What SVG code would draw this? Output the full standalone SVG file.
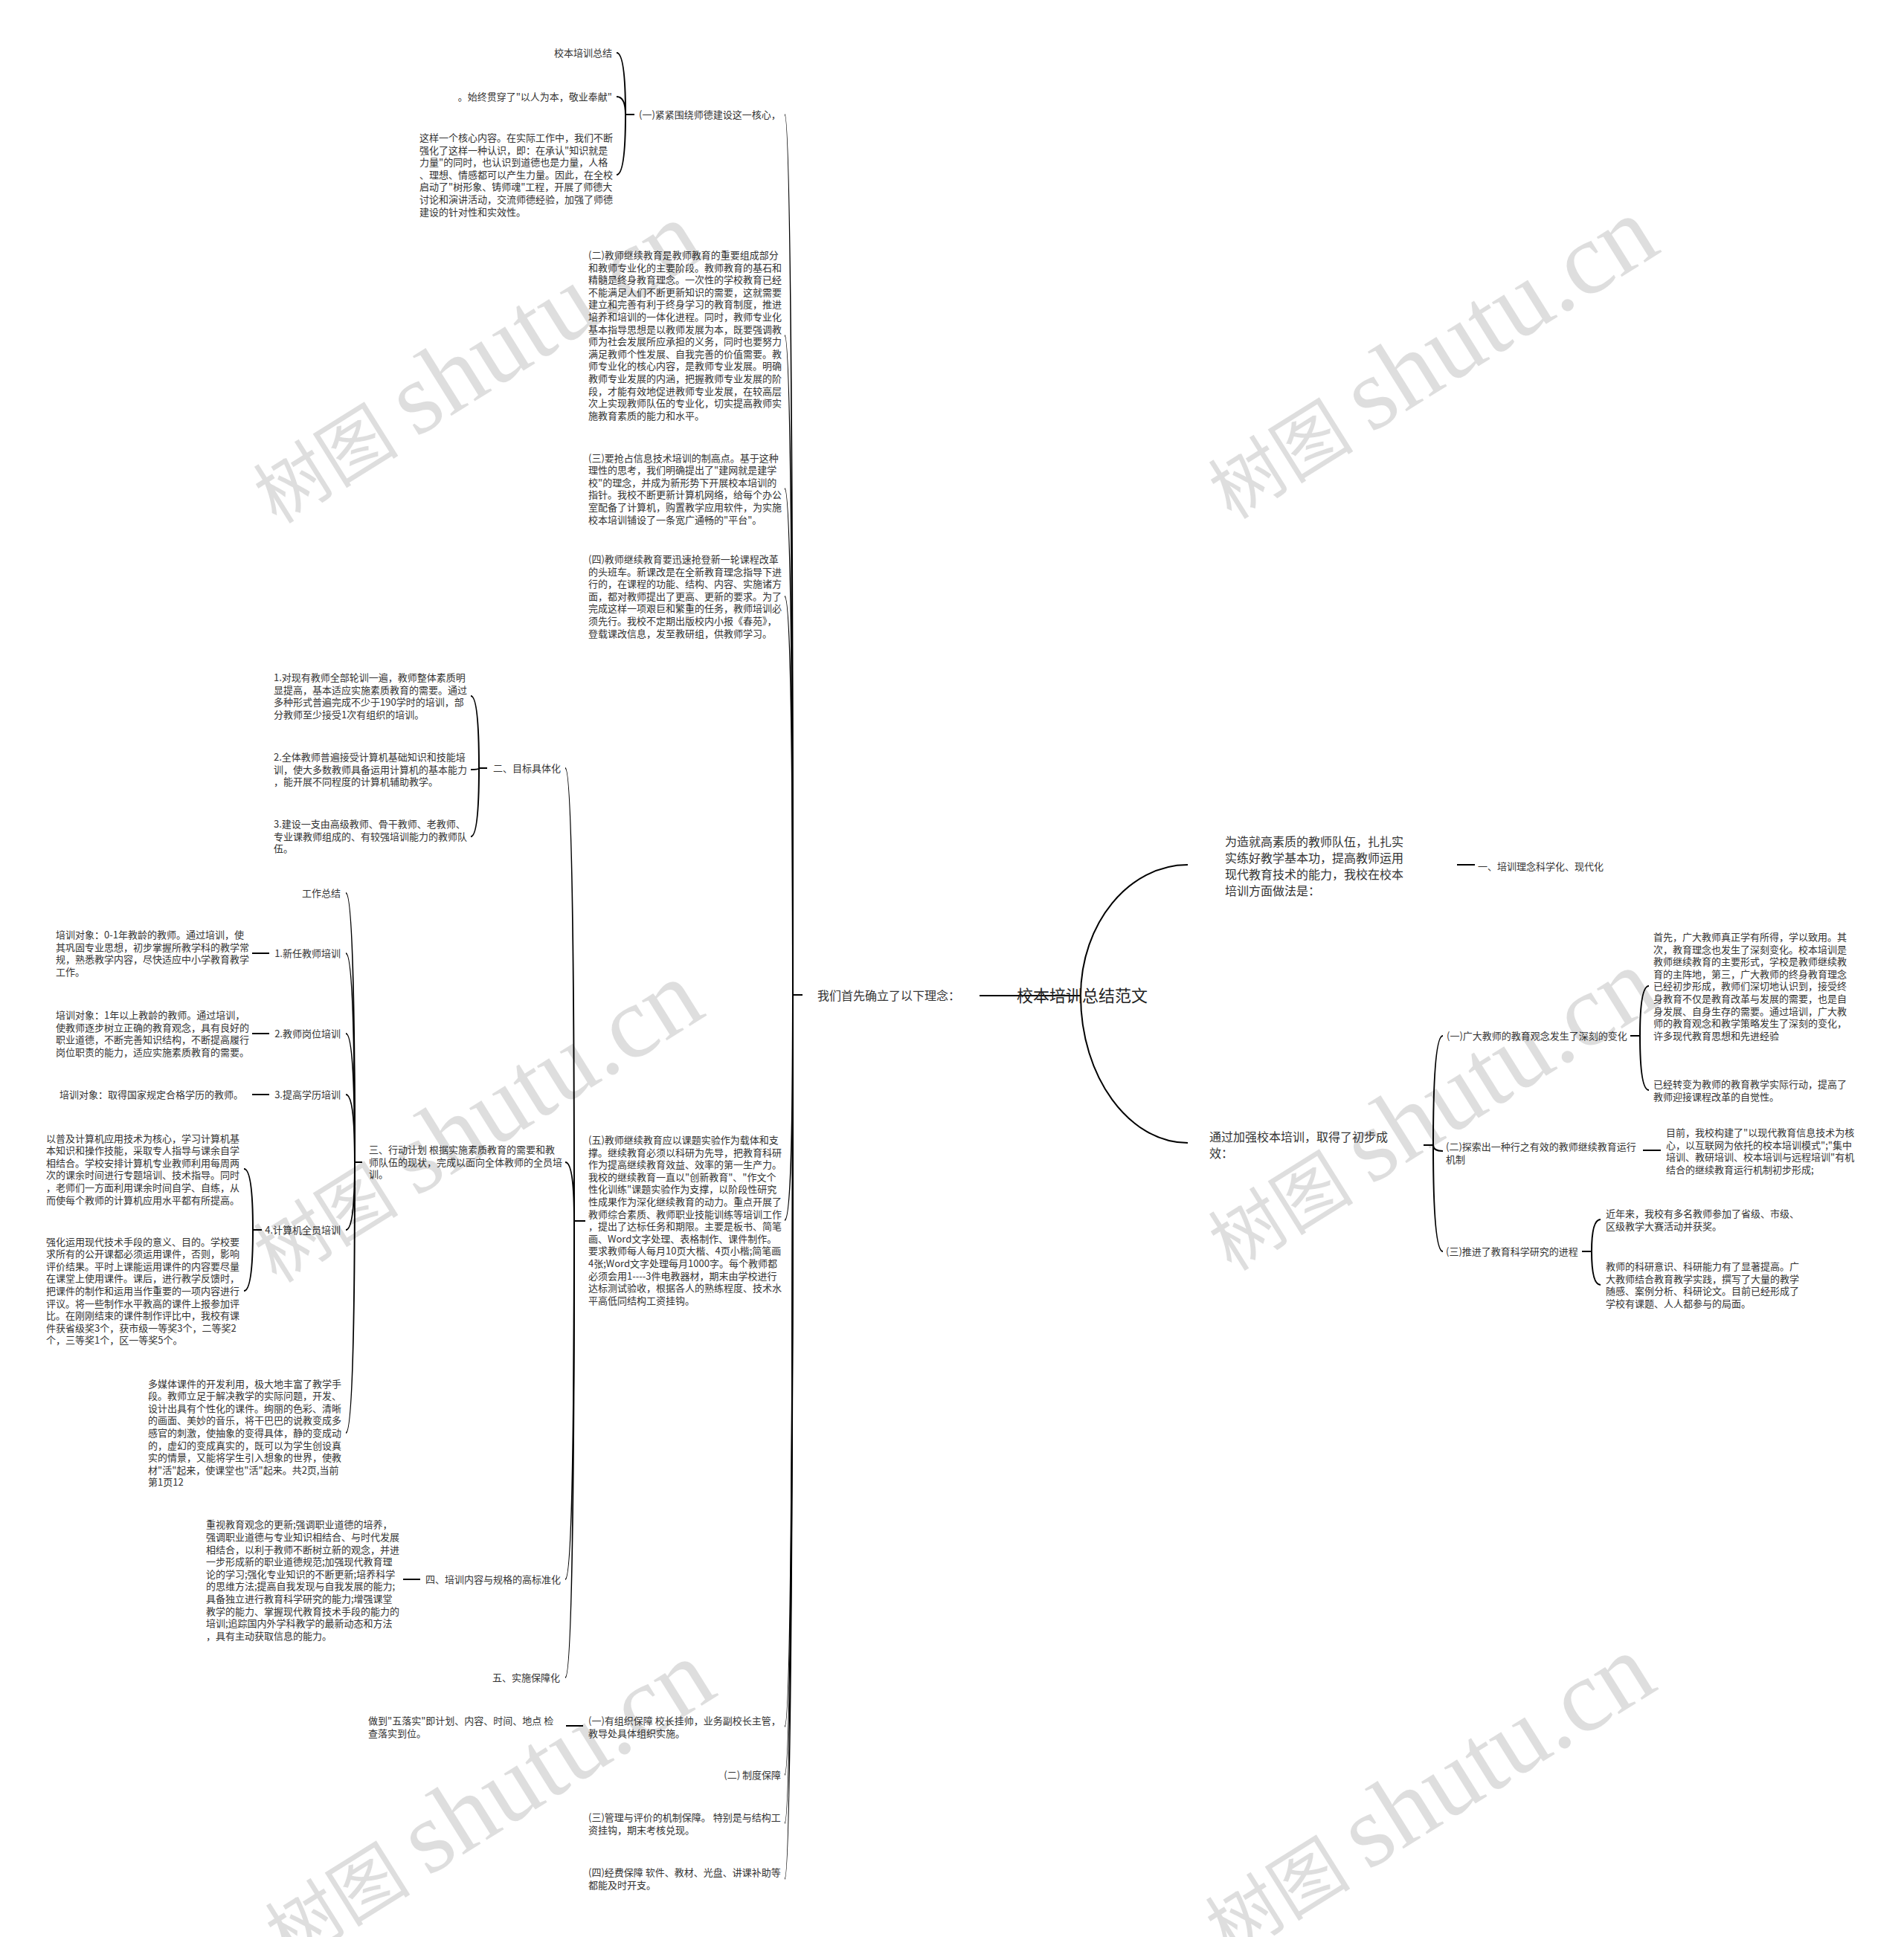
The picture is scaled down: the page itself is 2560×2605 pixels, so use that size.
<svg xmlns="http://www.w3.org/2000/svg" width="2560" height="2605" viewBox="0 0 2560 2605">
<style>
.t{font-family:"Noto Sans CJK SC","Microsoft YaHei",sans-serif;font-size:13px;fill:#333}
.m{font-family:"Noto Sans CJK SC","Microsoft YaHei",sans-serif;font-size:16px;fill:#333}
.c{font-family:"Noto Sans CJK SC","Microsoft YaHei",sans-serif;font-size:22px;fill:#222}
.r{text-anchor:end}
.e{fill:none;stroke:#000;stroke-width:2}
.wm{font-family:"Liberation Serif","Noto Sans CJK SC",serif;font-size:98px;fill:#000;fill-opacity:0.13}
.wl{font-size:138px}
</style>
<rect width="2560" height="2605" fill="#fff"/>
<g id="connectors">
<path class="e" d="M1317 1339H1453"/>
<path class="e" d="M1453 1339C1453 1242 1518 1163 1597 1163"/>
<path class="e" d="M1453 1339C1453 1448 1518 1537 1597 1537"/>
<path class="e" d="M1079 1338H1066Q1066 154 1055 154"/>
<path class="e" d="M1079 1338H1066Q1066 451 1055 451"/>
<path class="e" d="M1079 1338H1066Q1066 657 1055 657"/>
<path class="e" d="M1079 1338H1066Q1066 802 1055 802"/>
<path class="e" d="M1079 1338H1066Q1066 1641 1055 1641"/>
<path class="e" d="M1079 1338H1066Q1066 2322 1055 2322"/>
<path class="e" d="M1079 1338H1066Q1066 2387 1055 2387"/>
<path class="e" d="M1079 1338H1066Q1066 2452 1055 2452"/>
<path class="e" d="M1079 1338H1066Q1066 2527 1055 2527"/>
<path class="e" d="M853 154H841Q841 71 829 71"/>
<path class="e" d="M853 154H841Q841 130 829 130"/>
<path class="e" d="M853 154H841Q841 235 829 235"/>
<path class="e" d="M787 1642H772Q772 1033 760 1033"/>
<path class="e" d="M787 1642H772Q772 1563 760 1563"/>
<path class="e" d="M787 1642H772Q772 2124 760 2124"/>
<path class="e" d="M787 1642H772Q772 2256 760 2256"/>
<path class="e" d="M655 1033H644Q644 936 633 936"/>
<path class="e" d="M655 1033H644Q644 1035 633 1035"/>
<path class="e" d="M655 1033H644Q644 1125 633 1125"/>
<path class="e" d="M487 1563H477Q477 1201 465 1201"/>
<path class="e" d="M487 1563H477Q477 1282 465 1282"/>
<path class="e" d="M487 1563H477Q477 1390 465 1390"/>
<path class="e" d="M487 1563H477Q477 1472 465 1472"/>
<path class="e" d="M487 1563H477Q477 1654 465 1654"/>
<path class="e" d="M487 1563H477Q477 1927 465 1927"/>
<path class="e" d="M362 1282H339"/>
<path class="e" d="M362 1390H339"/>
<path class="e" d="M362 1472H339"/>
<path class="e" d="M352 1654H340Q340 1572 328 1572"/>
<path class="e" d="M352 1654H340Q340 1736 328 1736"/>
<path class="e" d="M565 2124H542"/>
<path class="e" d="M784 2321H761"/>
<path class="e" d="M1959 1163H1983"/>
<path class="e" d="M1914 1540H1927Q1927 1393 1940 1393"/>
<path class="e" d="M1914 1540H1927Q1927 1548 1940 1548"/>
<path class="e" d="M1914 1540H1927Q1927 1683 1940 1683"/>
<path class="e" d="M2192 1393H2205Q2205 1326 2217 1326"/>
<path class="e" d="M2192 1393H2205Q2205 1466 2217 1466"/>
<path class="e" d="M2209 1547H2233"/>
<path class="e" d="M2127 1683H2140Q2140 1640 2152 1640"/>
<path class="e" d="M2127 1683H2140Q2140 1728 2152 1728"/>
</g>
<g id="root"><text class="c" x="1367" y="1347">校本培训总结范文</text></g>
<g id="n-linian"><text class="m" x="1099" y="1345">我们首先确立了以下理念：</text></g>
<g id="n-zaojiu"><text class="m" x="1647" y="1138"><tspan x="1647" y="1138">为造就高素质的教师队伍，扎扎实</tspan><tspan x="1647" y="1160">实练好教学基本功，提高教师运用</tspan><tspan x="1647" y="1182">现代教育技术的能力，我校在校本</tspan><tspan x="1647" y="1204">培训方面做法是：</tspan></text></g>
<g id="n-chengxiao"><text class="m" x="1626" y="1535"><tspan x="1626" y="1535">通过加强校本培训，取得了初步成</tspan><tspan x="1626" y="1557">效：</tspan></text></g>
<g id="n-linian-kexue"><text class="t" x="1987" y="1170">一、培训理念科学化、现代化</text></g>
<g id="n-r1"><text class="t" x="1945" y="1398">(一)广大教师的教育观念发生了深刻的变化</text></g>
<g id="n-r1a"><text class="t" x="2223" y="1265"><tspan x="2223" dy="0">首先，广大教师真正学有所得，学以致用。其</tspan><tspan x="2223" dy="16.6">次，教育理念也发生了深刻变化。校本培训是</tspan><tspan x="2223" dy="16.6">教师继续教育的主要形式，学校是教师继续教</tspan><tspan x="2223" dy="16.6">育的主阵地，第三，广大教师的终身教育理念</tspan><tspan x="2223" dy="16.6">已经初步形成，教师们深切地认识到，接受终</tspan><tspan x="2223" dy="16.6">身教育不仅是教育改革与发展的需要，也是自</tspan><tspan x="2223" dy="16.6">身发展、自身生存的需要。通过培训，广大教</tspan><tspan x="2223" dy="16.6">师的教育观念和教学策略发生了深刻的变化，</tspan><tspan x="2223" dy="16.6">许多现代教育思想和先进经验</tspan></text></g>
<g id="n-r1b"><text class="t" x="2223" y="1463"><tspan x="2223" dy="0">已经转变为教师的教育教学实际行动，提高了</tspan><tspan x="2223" dy="16.6">教师迎接课程改革的自觉性。</tspan></text></g>
<g id="n-r2"><text class="t" x="1944" y="1547"><tspan x="1944" dy="0">(二)探索出一种行之有效的教师继续教育运行</tspan><tspan x="1944" dy="16.6">机制</tspan></text></g>
<g id="n-r2a"><text class="t" x="2240" y="1528"><tspan x="2240" dy="0">目前，我校构建了"以现代教育信息技术为核</tspan><tspan x="2240" dy="16.6">心，以互联网为依托的校本培训模式";"集中</tspan><tspan x="2240" dy="16.6">培训、教研培训、校本培训与远程培训"有机</tspan><tspan x="2240" dy="16.6">结合的继续教育运行机制初步形成;</tspan></text></g>
<g id="n-r3"><text class="t" x="1944" y="1688">(三)推进了教育科学研究的进程</text></g>
<g id="n-r3a"><text class="t" x="2159" y="1637"><tspan x="2159" dy="0">近年来，我校有多名教师参加了省级、市级、</tspan><tspan x="2159" dy="16.6">区级教学大赛活动并获奖。</tspan></text></g>
<g id="n-r3b"><text class="t" x="2159" y="1708"><tspan x="2159" dy="0">教师的科研意识、科研能力有了显著提高。广</tspan><tspan x="2159" dy="16.6">大教师结合教育教学实践，撰写了大量的教学</tspan><tspan x="2159" dy="16.6">随感、案例分析、科研论文。目前已经形成了</tspan><tspan x="2159" dy="16.6">学校有课题、人人都参与的局面。</tspan></text></g>
<g id="n-l1"><text class="t" x="859" y="159">(一)紧紧围绕师德建设这一核心，</text></g>
<g id="n-l1a"><text class="t r" x="823" y="76">校本培训总结</text></g>
<g id="n-l1b"><text class="t r" x="823" y="135">。始终贯穿了"以人为本，敬业奉献"</text></g>
<g id="n-l1c"><text class="t" x="564" y="190"><tspan x="564" dy="0">这样一个核心内容。在实际工作中，我们不断</tspan><tspan x="564" dy="16.6">强化了这样一种认识，即：在承认"知识就是</tspan><tspan x="564" dy="16.6">力量"的同时，也认识到道德也是力量，人格</tspan><tspan x="564" dy="16.6">、理想、情感都可以产生力量。因此，在全校</tspan><tspan x="564" dy="16.6">启动了"树形象、铸师魂"工程，开展了师德大</tspan><tspan x="564" dy="16.6">讨论和演讲活动，交流师德经验，加强了师德</tspan><tspan x="564" dy="16.6">建设的针对性和实效性。</tspan></text></g>
<g id="n-l2"><text class="t" x="791" y="348"><tspan x="791" dy="0">(二)教师继续教育是教师教育的重要组成部分</tspan><tspan x="791" dy="16.6">和教师专业化的主要阶段。教师教育的基石和</tspan><tspan x="791" dy="16.6">精髓是终身教育理念。一次性的学校教育已经</tspan><tspan x="791" dy="16.6">不能满足人们不断更新知识的需要，这就需要</tspan><tspan x="791" dy="16.6">建立和完善有利于终身学习的教育制度，推进</tspan><tspan x="791" dy="16.6">培养和培训的一体化进程。同时，教师专业化</tspan><tspan x="791" dy="16.6">基本指导思想是以教师发展为本，既要强调教</tspan><tspan x="791" dy="16.6">师为社会发展所应承担的义务，同时也要努力</tspan><tspan x="791" dy="16.6">满足教师个性发展、自我完善的价值需要。教</tspan><tspan x="791" dy="16.6">师专业化的核心内容，是教师专业发展。明确</tspan><tspan x="791" dy="16.6">教师专业发展的内涵，把握教师专业发展的阶</tspan><tspan x="791" dy="16.6">段，才能有效地促进教师专业发展，在较高层</tspan><tspan x="791" dy="16.6">次上实现教师队伍的专业化，切实提高教师实</tspan><tspan x="791" dy="16.6">施教育素质的能力和水平。</tspan></text></g>
<g id="n-l3"><text class="t" x="791" y="620.5"><tspan x="791" dy="0">(三)要抢占信息技术培训的制高点。基于这种</tspan><tspan x="791" dy="16.6">理性的思考，我们明确提出了"建网就是建学</tspan><tspan x="791" dy="16.6">校"的理念，并成为新形势下开展校本培训的</tspan><tspan x="791" dy="16.6">指针。我校不断更新计算机网络，给每个办公</tspan><tspan x="791" dy="16.6">室配备了计算机，购置教学应用软件，为实施</tspan><tspan x="791" dy="16.6">校本培训铺设了一条宽广通畅的"平台"。</tspan></text></g>
<g id="n-l4"><text class="t" x="791" y="757"><tspan x="791" dy="0">(四)教师继续教育要迅速抢登新一轮课程改革</tspan><tspan x="791" dy="16.6">的头班车。新课改是在全新教育理念指导下进</tspan><tspan x="791" dy="16.6">行的，在课程的功能、结构、内容、实施诸方</tspan><tspan x="791" dy="16.6">面，都对教师提出了更高、更新的要求。为了</tspan><tspan x="791" dy="16.6">完成这样一项艰巨和繁重的任务，教师培训必</tspan><tspan x="791" dy="16.6">须先行。我校不定期出版校内小报《春苑》，</tspan><tspan x="791" dy="16.6">登载课改信息，发至教研组，供教师学习。</tspan></text></g>
<g id="n-l5"><text class="t" x="791" y="1538"><tspan x="791" dy="0">(五)教师继续教育应以课题实验作为载体和支</tspan><tspan x="791" dy="16.6">撑。继续教育必须以科研为先导，把教育科研</tspan><tspan x="791" dy="16.6">作为提高继续教育效益、效率的第一生产力。</tspan><tspan x="791" dy="16.6">我校的继续教育一直以"创新教育"、"作文个</tspan><tspan x="791" dy="16.6">性化训练"课题实验作为支撑，以阶段性研究</tspan><tspan x="791" dy="16.6">性成果作为深化继续教育的动力。重点开展了</tspan><tspan x="791" dy="16.6">教师综合素质、教师职业技能训练等培训工作</tspan><tspan x="791" dy="16.6">，提出了达标任务和期限。主要是板书、简笔</tspan><tspan x="791" dy="16.6">画、Word文字处理、表格制作、课件制作。</tspan><tspan x="791" dy="16.6">要求教师每人每月10页大楷、4页小楷;简笔画</tspan><tspan x="791" dy="16.6">4张;Word文字处理每月1000字。每个教师都</tspan><tspan x="791" dy="16.6">必须会用1----3件电教器材，期末由学校进行</tspan><tspan x="791" dy="16.6">达标测试验收，根据各人的熟练程度、技术水</tspan><tspan x="791" dy="16.6">平高低同结构工资挂钩。</tspan></text></g>
<g id="n-mubiao"><text class="t" x="663" y="1038">二、目标具体化</text></g>
<g id="n-mb1"><text class="t" x="368" y="916"><tspan x="368" dy="0">1.对现有教师全部轮训一遍，教师整体素质明</tspan><tspan x="368" dy="16.6">显提高，基本适应实施素质教育的需要。通过</tspan><tspan x="368" dy="16.6">多种形式普遍完成不少于190学时的培训，部</tspan><tspan x="368" dy="16.6">分教师至少接受1次有组织的培训。</tspan></text></g>
<g id="n-mb2"><text class="t" x="368" y="1023"><tspan x="368" dy="0">2.全体教师普遍接受计算机基础知识和技能培</tspan><tspan x="368" dy="16.6">训，使大多数教师具备运用计算机的基本能力</tspan><tspan x="368" dy="16.6">，能开展不同程度的计算机辅助教学。</tspan></text></g>
<g id="n-mb3"><text class="t" x="368" y="1113"><tspan x="368" dy="0">3.建设一支由高级教师、骨干教师、老教师、</tspan><tspan x="368" dy="16.6">专业课教师组成的、有较强培训能力的教师队</tspan><tspan x="368" dy="16.6">伍。</tspan></text></g>
<g id="n-xingdong"><text class="t" x="496" y="1551"><tspan x="496" dy="0">三、行动计划 根据实施素质教育的需要和教</tspan><tspan x="496" dy="16.6">师队伍的现状，完成以面向全体教师的全员培</tspan><tspan x="496" dy="16.6">训。</tspan></text></g>
<g id="n-gzzj"><text class="t r" x="458" y="1206">工作总结</text></g>
<g id="n-xd1"><text class="t r" x="458" y="1287">1.新任教师培训</text></g>
<g id="n-xd2"><text class="t r" x="458" y="1395">2.教师岗位培训</text></g>
<g id="n-xd3"><text class="t r" x="458" y="1477">3.提高学历培训</text></g>
<g id="n-xd4"><text class="t r" x="458" y="1659">4.计算机全员培训</text></g>
<g id="n-xd1a"><text class="t" x="75" y="1262"><tspan x="75" dy="0">培训对象：0-1年教龄的教师。通过培训，使</tspan><tspan x="75" dy="16.6">其巩固专业思想，初步掌握所教学科的教学常</tspan><tspan x="75" dy="16.6">规，熟悉教学内容，尽快适应中小学教育教学</tspan><tspan x="75" dy="16.6">工作。</tspan></text></g>
<g id="n-xd2a"><text class="t" x="75" y="1370"><tspan x="75" dy="0">培训对象：1年以上教龄的教师。通过培训，</tspan><tspan x="75" dy="16.6">使教师逐步树立正确的教育观念，具有良好的</tspan><tspan x="75" dy="16.6">职业道德，不断完善知识结构，不断提高履行</tspan><tspan x="75" dy="16.6">岗位职责的能力，适应实施素质教育的需要。</tspan></text></g>
<g id="n-xd3a"><text class="t r" x="327" y="1477">培训对象：取得国家规定合格学历的教师。</text></g>
<g id="n-xd4a"><text class="t" x="62" y="1535.5"><tspan x="62" dy="0">以普及计算机应用技术为核心，学习计算机基</tspan><tspan x="62" dy="16.6">本知识和操作技能，采取专人指导与课余自学</tspan><tspan x="62" dy="16.6">相结合。学校安排计算机专业教师利用每周两</tspan><tspan x="62" dy="16.6">次的课余时间进行专题培训、技术指导。同时</tspan><tspan x="62" dy="16.6">，老师们一方面利用课余时间自学、自练，从</tspan><tspan x="62" dy="16.6">而使每个教师的计算机应用水平都有所提高。</tspan></text></g>
<g id="n-xd4b"><text class="t" x="62" y="1674.6"><tspan x="62" dy="0">强化运用现代技术手段的意义、目的。学校要</tspan><tspan x="62" dy="16.6">求所有的公开课都必须运用课件，否则，影响</tspan><tspan x="62" dy="16.6">评价结果。平时上课能运用课件的内容要尽量</tspan><tspan x="62" dy="16.6">在课堂上使用课件。课后，进行教学反馈时，</tspan><tspan x="62" dy="16.6">把课件的制作和运用当作重要的一项内容进行</tspan><tspan x="62" dy="16.6">评议。将一些制作水平教高的课件上报参加评</tspan><tspan x="62" dy="16.6">比。在刚刚结束的课件制作评比中，我校有课</tspan><tspan x="62" dy="16.6">件获省级奖3个，获市级一等奖3个，二等奖2</tspan><tspan x="62" dy="16.6">个，三等奖1个，区一等奖5个。</tspan></text></g>
<g id="n-duomeiti"><text class="t" x="199" y="1865.6"><tspan x="199" dy="0">多媒体课件的开发利用，极大地丰富了教学手</tspan><tspan x="199" dy="16.6">段。教师立足于解决教学的实际问题，开发、</tspan><tspan x="199" dy="16.6">设计出具有个性化的课件。绚丽的色彩、清晰</tspan><tspan x="199" dy="16.6">的画面、美妙的音乐，将干巴巴的说教变成多</tspan><tspan x="199" dy="16.6">感官的刺激，使抽象的变得具体，静的变成动</tspan><tspan x="199" dy="16.6">的，虚幻的变成真实的，既可以为学生创设真</tspan><tspan x="199" dy="16.6">实的情景，又能将学生引入想象的世界，使教</tspan><tspan x="199" dy="16.6">材"活"起来，使课堂也"活"起来。共2页,当前</tspan><tspan x="199" dy="16.6">第1页12</tspan></text></g>
<g id="n-neirong"><text class="t r" x="754" y="2129">四、培训内容与规格的高标准化</text></g>
<g id="n-neirong-a"><text class="t" x="277" y="2055.3"><tspan x="277" dy="0">重视教育观念的更新;强调职业道德的培养，</tspan><tspan x="277" dy="16.6">强调职业道德与专业知识相结合、与时代发展</tspan><tspan x="277" dy="16.6">相结合，以利于教师不断树立新的观念，并进</tspan><tspan x="277" dy="16.6">一步形成新的职业道德规范;加强现代教育理</tspan><tspan x="277" dy="16.6">论的学习;强化专业知识的不断更新;培养科学</tspan><tspan x="277" dy="16.6">的思维方法;提高自我发现与自我发展的能力;</tspan><tspan x="277" dy="16.6">具备独立进行教育科学研究的能力;增强课堂</tspan><tspan x="277" dy="16.6">教学的能力、掌握现代教育技术手段的能力的</tspan><tspan x="277" dy="16.6">培训;追踪国内外学科教学的最新动态和方法</tspan><tspan x="277" dy="16.6">，具有主动获取信息的能力。</tspan></text></g>
<g id="n-baozhang"><text class="t r" x="753" y="2261">五、实施保障化</text></g>
<g id="n-bz1"><text class="t" x="791" y="2319"><tspan x="791" dy="0">(一)有组织保障 校长挂帅，业务副校长主管，</tspan><tspan x="791" dy="16.6">教导处具体组织实施。</tspan></text></g>
<g id="n-bz1a"><text class="t" x="495" y="2319"><tspan x="495" dy="0">做到"五落实"即计划、内容、时间、地点 检</tspan><tspan x="495" dy="16.6">查落实到位。</tspan></text></g>
<g id="n-bz2"><text class="t r" x="1050" y="2392">(二) 制度保障</text></g>
<g id="n-bz3"><text class="t" x="791" y="2449"><tspan x="791" dy="0">(三)管理与评价的机制保障。 特别是与结构工</tspan><tspan x="791" dy="16.6">资挂钩，期末考核兑现。</tspan></text></g>
<g id="n-bz4"><text class="t" x="791" y="2523"><tspan x="791" dy="0">(四)经费保障 软件、教材、光盘、讲课补助等</tspan><tspan x="791" dy="16.6">都能及时开支。</tspan></text></g>
<g id="watermark">
<text class="wm" transform="translate(372 706) rotate(-32)">树图 <tspan class="wl">shutu.cn</tspan></text>
<text class="wm" transform="translate(1656 700) rotate(-32)">树图 <tspan class="wl">shutu.cn</tspan></text>
<text class="wm" transform="translate(372 1727) rotate(-32)">树图 <tspan class="wl">shutu.cn</tspan></text>
<text class="wm" transform="translate(1656 1711) rotate(-32)">树图 <tspan class="wl">shutu.cn</tspan></text>
<text class="wm" transform="translate(388 2641) rotate(-32)">树图 <tspan class="wl">shutu.cn</tspan></text>
<text class="wm" transform="translate(1652 2633) rotate(-32)">树图 <tspan class="wl">shutu.cn</tspan></text>
</g>
</svg>
